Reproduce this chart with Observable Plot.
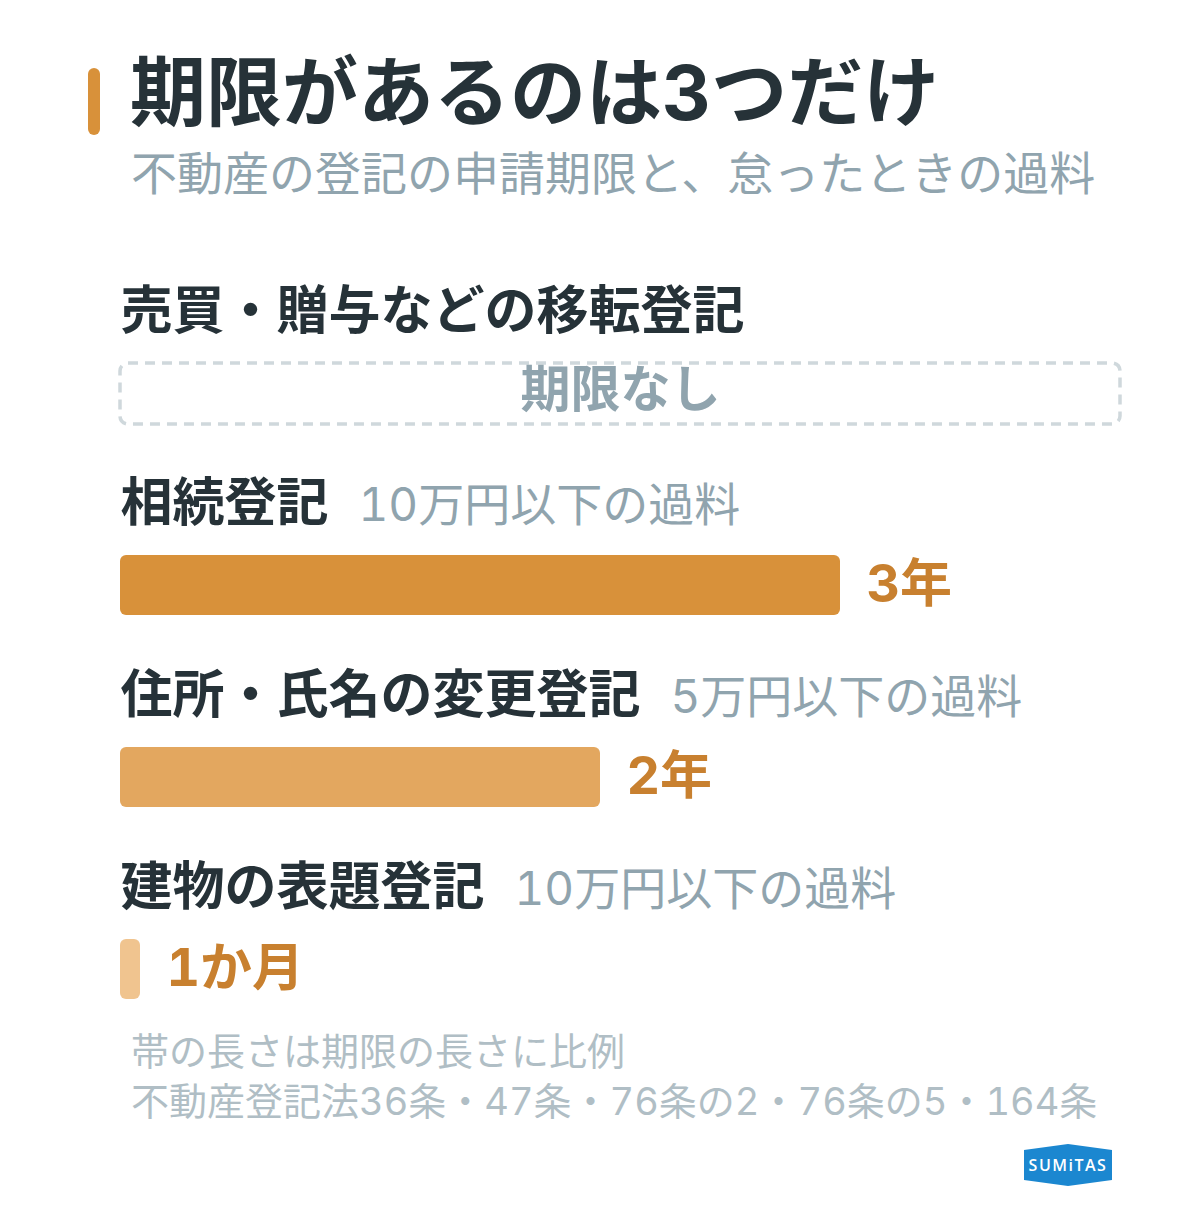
<!DOCTYPE html>
<html><head><meta charset="utf-8">
<script src="https://cdn.jsdelivr.net/npm/d3@7"></script>
<script src="https://cdn.jsdelivr.net/npm/@observablehq/plot@0.6"></script>
<style>
body{margin:0;background:#fff;font-family:Inter,"Noto Sans CJK JP","Noto Sans",sans-serif;font-variant-numeric:tabular-nums;}
#page{position:relative;width:1200px;height:1220px;overflow:hidden;background:#fff;}
.accent{position:absolute;left:88px;top:68px;width:12px;height:67px;border-radius:6px;background:#D8913A;}
.title{position:absolute;left:130px;top:54px;font-size:76px;line-height:1;font-weight:700;color:#263238;white-space:nowrap;}
.subtitle{position:absolute;left:131px;top:150px;font-size:46px;line-height:1;color:#90A4AE;white-space:nowrap;}
#chart{position:absolute;left:0;top:262px;}
#chart svg text{font-variant-numeric:tabular-nums;}
.notes{position:absolute;left:131px;top:1026px;font-size:38px;line-height:50px;color:#B0BEC5;white-space:nowrap;}
.logo{position:absolute;left:1024px;top:1144px;width:88px;height:42px;background:#1B87D0;
  clip-path:polygon(0 14%,50% 0,100% 14%,100% 86%,50% 100%,0 86%);display:flex;align-items:center;justify-content:center;}
.logo span{color:#fff;font-family:"Open Sans","DejaVu Sans",sans-serif;font-weight:600;font-size:16px;letter-spacing:1.5px;}
</style></head><body>
<div id="page">
  <div class="accent"></div>
  <div class="title" id="title"></div>
  <div class="subtitle" id="subtitle"></div>
  <div id="chart"></div>
  <div class="notes" id="notes"></div>
  <div class="logo"><span>SUMiTAS</span></div>
</div>
<script>
const titleText = "期限があるのは3つだけ";
const subtitleText = "不動産の登記の申請期限と、怠ったときの過料";
const categories = ["売買・贈与などの移転登記", "相続登記", "住所・氏名の変更登記", "建物の表題登記"];
const deadlineMonths = [null, 36, 24, 1];
const deadlineLabels = ["期限なし", "3年", "2年", "1か月"];
const penalties = ["", "10万円以下の過料", "5万円以下の過料", "10万円以下の過料"];
const footnotes = ["帯の長さは期限の長さに比例", "不動産登記法36条・47条・76条の2・76条の5・164条"];
const xMaxMonths = 50;

document.getElementById("title").textContent = titleText;
document.getElementById("subtitle").textContent = subtitleText;
const notesEl = document.getElementById("notes");
footnotes.forEach(t => { const d = document.createElement("div"); d.textContent = t; notesEl.appendChild(d); });

const FONT = 'Inter, "Noto Sans CJK JP", sans-serif';
const rows = categories.map((c, i) => ({category: c, months: deadlineMonths[i], label: deadlineLabels[i], penalty: penalties[i]}));
const withDeadline = rows.filter(d => d.months != null);
const noDeadline = rows.filter(d => d.months == null);

const ctx = document.createElement("canvas").getContext("2d");
ctx.font = `bold 52px ${FONT}`;
const labelWidth = t => ctx.measureText(t).width;

const barColors = ["#FFFFFF", "#D8913A", "#E3A75F", "#F0C48F"];

const penaltyMarks = rows.filter(d => d.penalty).map(d =>
  Plot.text([d], {x: () => 0, y: "category", text: "penalty", textAnchor: "start", lineAnchor: "bottom",
    dy: -30, dx: labelWidth(d.category) + 30, fontSize: 46, fill: "#90A4AE", fontFamily: FONT})
);

const chart = Plot.plot({
  width: 1200,
  height: 768,
  margin: 0,
  x: {domain: [0, xMaxMonths], range: [120, 1120], axis: null},
  y: {domain: categories, range: [0, 768], padding: 0, axis: null},
  color: {domain: categories, range: barColors},
  style: {fontFamily: FONT, background: "transparent", overflow: "visible"},
  marks: [
    Plot.barX(noDeadline, {x1: () => 0, x2: () => xMaxMonths, y: "category", insetTop: 101, insetBottom: 30,
      fill: "none", stroke: "#CFD8DC", strokeWidth: 3.5, strokeDasharray: "10 7", rx: 8}),
    Plot.text(noDeadline, {x: () => xMaxMonths / 2, y: "category", text: "label", lineAnchor: "middle", dy: 32,
      fontSize: 50, fontWeight: "bold", fill: "#90A4AE", fontFamily: FONT}),
    Plot.barX(withDeadline, {x1: () => 0, x2: "months", y: "category", fill: "category", insetTop: 101, insetBottom: 31, rx: 6}),
    Plot.text(withDeadline, {x: "months", y: "category", text: "label", textAnchor: "start", lineAnchor: "middle",
      dx: 26, dy: 35, fontSize: 52, fontWeight: "bold", fill: "#C8802F", fontFamily: FONT}),
    Plot.text(rows, {x: () => 0, y: "category", text: "category", textAnchor: "start", lineAnchor: "bottom",
      dy: -30, fontSize: 52, fontWeight: "bold", fill: "#263238", fontFamily: FONT}),
    ...penaltyMarks
  ]
});
document.getElementById("chart").appendChild(chart);
</script>
</body></html>
